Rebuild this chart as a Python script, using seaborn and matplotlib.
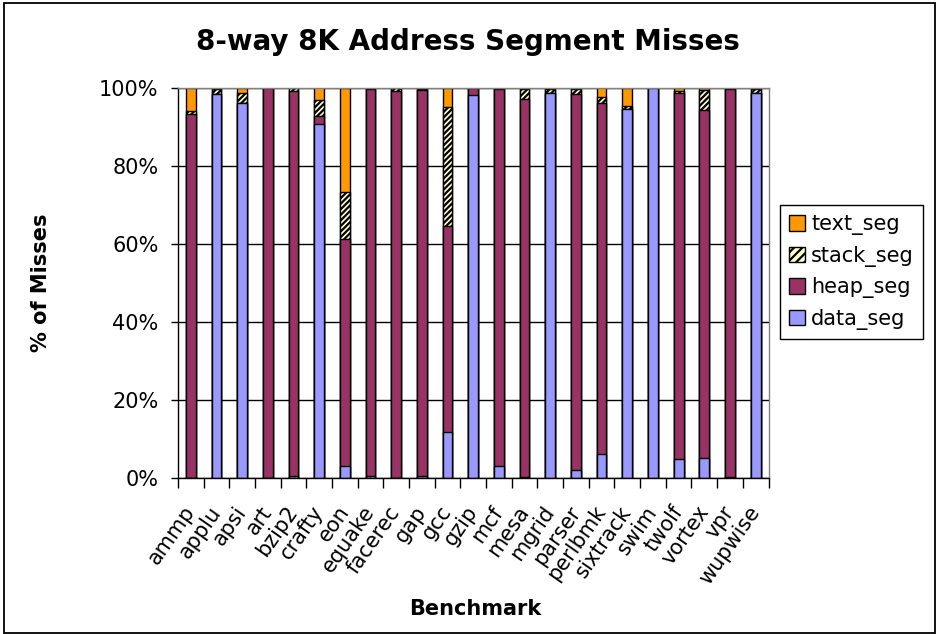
import numpy as np
import pandas as pd
import matplotlib
matplotlib.use("Agg")
import matplotlib.pyplot as plt
from matplotlib.patches import Patch, Rectangle
import seaborn as sns

# Share of misses (%) per address segment, per benchmark
benchmarks = ["ammp", "applu", "apsi", "art", "bzip2", "crafty", "eon", "equake",
              "facerec", "gap", "gcc", "gzip", "mcf", "mesa", "mgrid", "parser",
              "perlbmk", "sixtrack", "swim", "twolf", "vortex", "vpr", "wupwise"]
data_seg = [0.0, 98.3, 96.0, 0.0, 0.5, 90.7, 3.0, 0.3, 0.0, 0.3, 11.7, 98.0,
            3.0, 0.2, 98.5, 2.0, 5.9, 94.5, 100.0, 4.7, 5.0, 0.1, 98.6]
heap_seg = [93.2, 0.0, 0.0, 100.0, 98.7, 1.9, 58.2, 99.3, 99.0, 99.0, 52.9, 2.0,
            96.6, 96.8, 0.0, 96.3, 90.0, 0.0, 0.0, 93.8, 89.2, 99.4, 0.0]
stack_seg = [0.8, 1.3, 2.6, 0.0, 0.8, 4.2, 12.1, 0.2, 0.8, 0.4, 30.5, 0.0,
             0.2, 2.5, 1.0, 1.4, 1.7, 0.7, 0.0, 0.7, 5.1, 0.3, 0.9]
text_seg = [6.0, 0.4, 1.4, 0.0, 0.0, 3.2, 26.7, 0.2, 0.2, 0.3, 4.9, 0.0,
            0.2, 0.5, 0.5, 0.3, 2.4, 4.8, 0.0, 0.8, 0.7, 0.2, 0.5]
series = ["text_seg", "stack_seg", "heap_seg", "data_seg"]
colors = {"text_seg": "#FF9900", "stack_seg": "#FFFFCC",
          "heap_seg": "#993366", "data_seg": "#9999FF"}
y_ticks = [0, 20, 40, 60, 80, 100]
y_tick_labels = ["0%", "20%", "40%", "60%", "80%", "100%"]

sns.set_style("white")
plt.rcParams["font.family"] = ["DejaVu Sans"]
plt.rcParams["text.color"] = "black"
plt.rcParams["xtick.color"] = "black"
plt.rcParams["ytick.color"] = "black"
plt.rcParams["axes.labelcolor"] = "black"
plt.rcParams["hatch.linewidth"] = 1.6

df = pd.DataFrame({"benchmark": benchmarks, "data_seg": data_seg,
                   "heap_seg": heap_seg, "stack_seg": stack_seg,
                   "text_seg": text_seg})
# cumulative tops of each stacked segment
df["data_seg_top"] = df["data_seg"]
df["heap_seg_top"] = df["data_seg_top"] + df["heap_seg"]
df["stack_seg_top"] = df["heap_seg_top"] + df["stack_seg"]
df["text_seg_top"] = df["stack_seg_top"] + df["text_seg"]

W, H = 936, 634
fig = plt.figure(figsize=(W / 100, H / 100), dpi=100)
left, right, top, bottom = 178, 768.5, 87.5, 477.5
ax = fig.add_axes([left / W, 1 - bottom / H, (right - left) / W, (bottom - top) / H])

# draw tallest layer first so each lower segment paints over it
for name in series:
    n_before = len(ax.patches)
    sns.barplot(data=df, x="benchmark", y=name + "_top", order=benchmarks,
                color=colors[name], saturation=1, width=0.38,
                edgecolor="black", linewidth=1.0, errorbar=None, ax=ax)
    if name == "stack_seg":
        for p in ax.patches[n_before:]:
            p.set_hatch("//////")

ax.set_xlim(-0.5, len(benchmarks) - 0.5)
ax.set_ylim(0, 100)
ax.set_axisbelow(True)
ax.yaxis.grid(True, color="black", linewidth=1.0)
ax.xaxis.grid(False)

ax.set_yticks(y_ticks)
ax.set_yticklabels(y_tick_labels)
ax.tick_params(axis="y", direction="out", length=5, width=1, color="black",
               labelcolor="black", pad=9, labelsize=15, left=True)

ax.set_xticks(range(len(benchmarks)))
ax.set_xticklabels(benchmarks, rotation=55, ha="right", va="center",
                   rotation_mode="anchor")
ax.set_xticks(np.arange(-0.5, len(benchmarks), 1.0), minor=True)
ax.tick_params(axis="x", which="major", length=0, pad=22, labelsize=15,
               labelcolor="black")
ax.tick_params(axis="x", which="minor", direction="out", length=7, width=1,
               color="black", bottom=True)

for side in ["left", "bottom"]:
    ax.spines[side].set_color("black")
    ax.spines[side].set_linewidth(1.0)
for side in ["top", "right"]:
    ax.spines[side].set_color("#808080")
    ax.spines[side].set_linewidth(1.0)

ax.set_xlabel("")
ax.set_ylabel("")

fig.text(468 / W, 1 - 42 / H, "8-way 8K Address Segment Misses",
         ha="center", va="center", fontsize=20, fontweight="bold", color="black")
fig.text(41 / W, 1 - 283 / H, "% of Misses", ha="center", va="center",
         rotation=90, fontsize=15, fontweight="bold", color="black")
fig.text(475 / W, 1 - 609 / H, "Benchmark", ha="center", va="center",
         fontsize=15, fontweight="bold", color="black")

handles = [Patch(facecolor=colors[s], edgecolor="black", linewidth=1.0,
                 hatch="////" if s == "stack_seg" else None, label=s)
           for s in series]
leg = ax.legend(handles=handles, loc="upper left",
                bbox_to_anchor=(780 / W, 1 - 205 / H), bbox_transform=fig.transFigure,
                borderaxespad=0, frameon=True, fancybox=False, shadow=False,
                framealpha=1, edgecolor="black", fontsize=15,
                handlelength=0.75, handleheight=0.75, handletextpad=0.3,
                labelspacing=0.5, borderpad=0.45)
leg.get_frame().set_linewidth(1.0)
for t in leg.get_texts():
    t.set_color("black")

fig.add_artist(Rectangle((4 / W, 1.5 / H), (934.5 - 4) / W, (631.5 - 1.5) / H,
                         transform=fig.transFigure, fill=False,
                         edgecolor="black", linewidth=1.3))

fig.savefig("out.png", dpi=100)
